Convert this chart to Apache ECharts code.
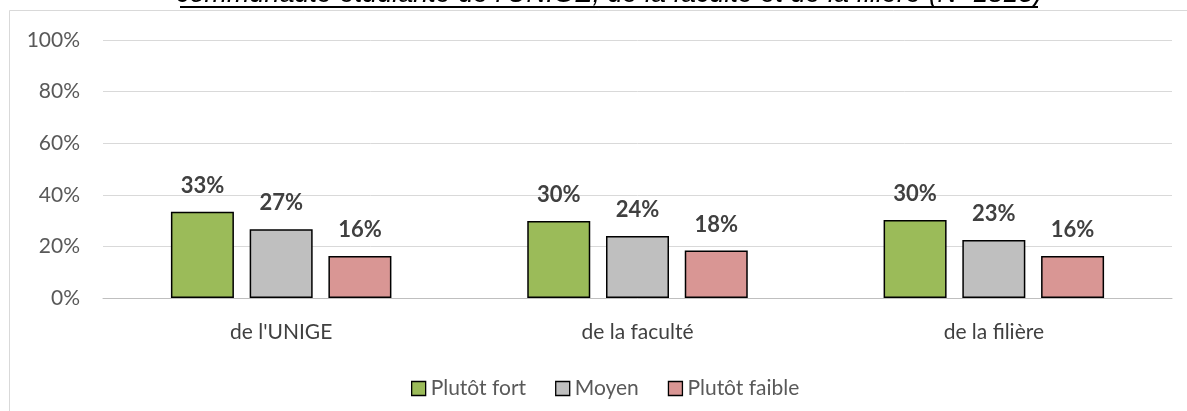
<!DOCTYPE html>
<html>
<head>
<meta charset="utf-8">
<script src="https://cdn.jsdelivr.net/npm/echarts@6/dist/echarts.min.js"></script>
<style>html,body{margin:0;padding:0;background:#fff}#c{width:1187px;height:411px}</style>
</head>
<body>
<div id="c"></div>
<script>
var titleText = "communauté étudiante de l'UNIGE, de la faculté et de la filière (N=1813)";
var categories = ["de l'UNIGE", "de la faculté", "de la filière"];
var seriesNames = ["Plutôt fort", "Moyen", "Plutôt faible"];
var fort = [33.4, 29.8, 30.2];
var moyen = [26.6, 24.0, 22.5];
var faible = [16.3, 18.4, 16.3];
var colors = ["#9BBB59", "#BFBFBF", "#D99694"];
var yTicks = [0, 20, 40, 60, 80, 100];

var FONT = "Lato, 'Open Sans', sans-serif";
var chart = echarts.init(document.getElementById('c'), null, {renderer: 'canvas'});
function mk(name, data, color) {
  return {
    name: name, type: 'bar', data: data, barWidth: 63, barGap: '25%',
    itemStyle: {color: color, borderColor: '#000', borderWidth: 1.5},
    label: {show: true, position: 'top', distance: 15, fontFamily: FONT, fontSize: 22, fontWeight: 'bold', color: '#404040',
      formatter: function (p) { return Math.round(p.value) + '%'; }},
    emphasis: {disabled: true}
  };
}
chart.setOption({
  animation: false,
  backgroundColor: '#fff',
  color: colors,
  graphic: [
    {type: 'rect', shape: {x: 9.5, y: 10.5, width: 1200, height: 420}, style: {fill: 'none', stroke: '#D9D9D9', lineWidth: 1}, z: -1},
    {type: 'text', x: 609, y: 8, style: {text: titleText, font: 'italic 27px "Liberation Sans", Arial, sans-serif', fill: '#000', align: 'center', verticalAlign: 'bottom'}, z: 5},
    {type: 'line', shape: {x1: 180, y1: 7, x2: 1038, y2: 7}, style: {stroke: '#000', lineWidth: 2}, z: 5}
  ],
  grid: {left: 103, right: 15, top: 40, bottom: 113, containLabel: false},
  legend: {
    data: seriesNames, bottom: 7, left: 406, icon: 'rect', itemWidth: 14, itemHeight: 14, itemGap: 29,
    itemStyle: {borderColor: '#000', borderWidth: 1.3},
    textStyle: {fontFamily: FONT, fontSize: 21, color: '#595959'}
  },
  xAxis: {
    type: 'category', data: categories,
    axisLine: {lineStyle: {color: '#BFBFBF', width: 1}}, axisTick: {show: false},
    axisLabel: {fontFamily: FONT, fontSize: 21, color: '#404040', margin: 24}
  },
  yAxis: {
    type: 'value', min: 0, max: 100, interval: 20,
    axisLine: {show: false}, axisTick: {show: false},
    splitLine: {lineStyle: {color: '#D9D9D9', width: 1}},
    axisLabel: {fontFamily: FONT, fontSize: 21, color: '#595959', margin: 23, formatter: function (v) { return yTicks.indexOf(v) >= 0 ? v + '%' : ''; }}
  },
  series: [mk(seriesNames[0], fort, colors[0]), mk(seriesNames[1], moyen, colors[1]), mk(seriesNames[2], faible, colors[2])]
});
</script>
</body>
</html>
